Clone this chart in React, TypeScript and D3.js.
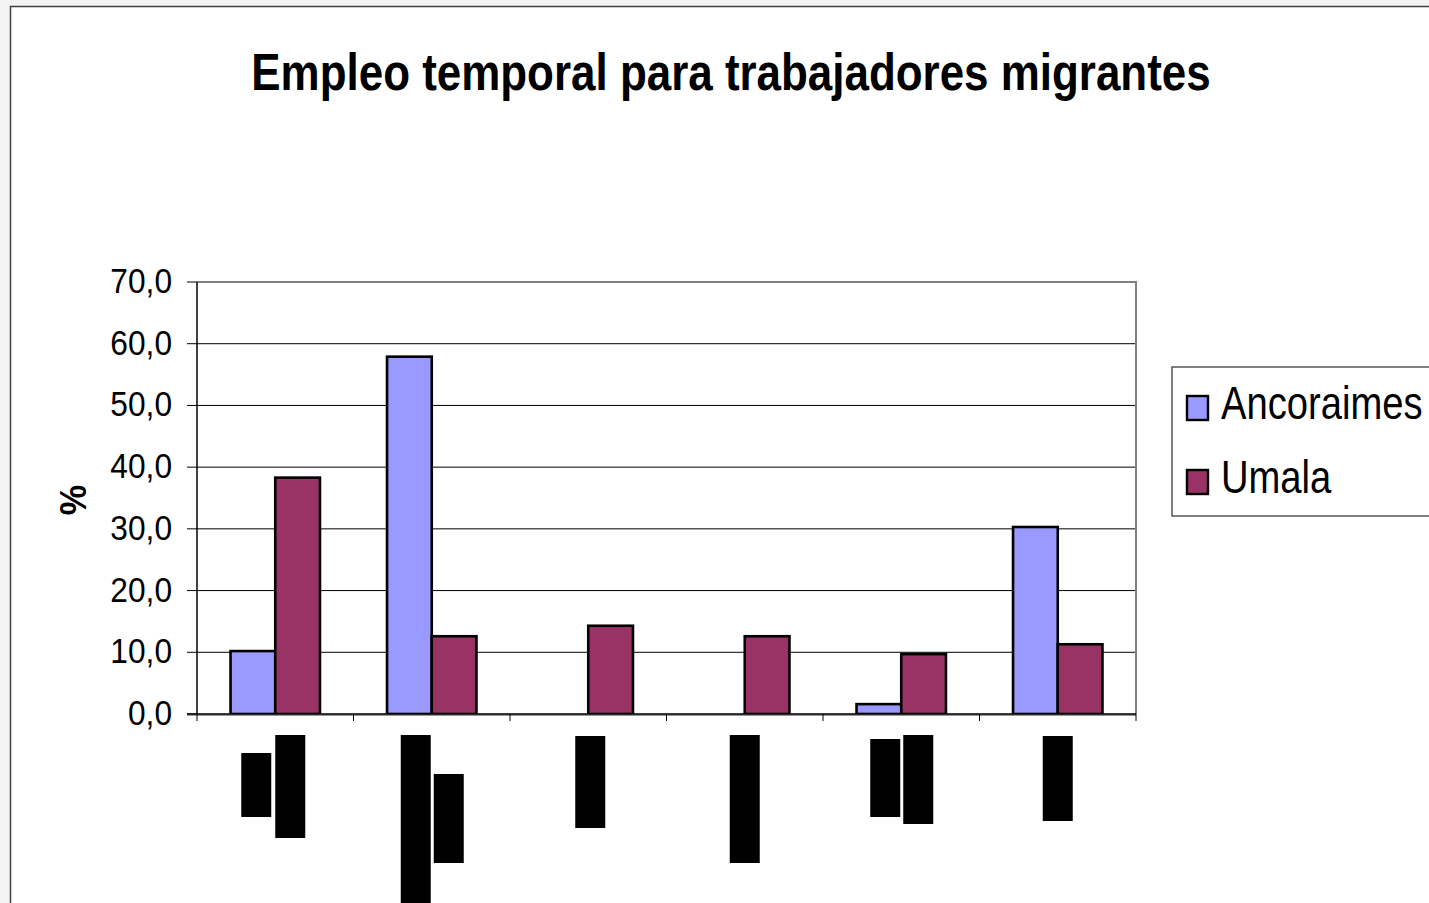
import React from "react";
import * as d3 from "d3";

// values
const categories = ["c1", "c2", "c3", "c4", "c5", "c6"];
const series = ["Ancoraimes", "Umala"];
const ancoraimes = [10.2, 57.9, 0, 0, 1.6, 30.3];
const umala = [38.3, 12.6, 14.3, 12.6, 9.7, 11.3];
const yTicks = [0, 10, 20, 30, 40, 50, 60, 70];

const colors = { Ancoraimes: "#9999FF", Umala: "#993366" };

// the category labels are blacked out in the reference: one box per label line
// [x offset from band centre, top, bottom]
const redactions = [
  [[-34, 753, 817], [0, 735, 838]],
  [[-31, 735, 910], [2, 774, 863]],
  [[-13, 736, 828]],
  [[-15, 735, 863]],
  [[-31, 739, 817], [2, 735, 824]],
  [[-15, 736, 821]],
];

const FONT = "'Liberation Sans', Arial, sans-serif";
const SX = 0.85; // the source is squashed horizontally

const Label = ({ x, y, size, anchor = "start", bold = false, rotate = 0, sx = SX, children }) => (
  <text
    transform={`translate(${x},${y}) rotate(${rotate}) scale(${sx},1)`}
    fontFamily={FONT}
    fontSize={size}
    fontWeight={bold ? "bold" : "normal"}
    textAnchor={anchor}
    fill="#000"
  >
    {children}
  </text>
);

const App = () => {
  const width = 1429;
  const height = 903;
  const plot = { left: 197, right: 1136, top: 282, bottom: 714 };

  const x0 = d3
    .scaleBand()
    .domain(categories)
    .range([plot.left, plot.right])
    .paddingInner(0.4286)
    .paddingOuter(0.2143);
  const x1 = d3.scaleBand().domain(series).range([0, x0.bandwidth()]);
  const y = d3.scaleLinear().domain([0, 70]).range([plot.bottom, plot.top]);
  const fmt = (v) => d3.format(".1f")(v).replace(".", ",");
  const step = x0.step();

  const rows = categories.map((c, i) => ({ c, Ancoraimes: ancoraimes[i], Umala: umala[i] }));

  return (
    <svg
      width={width}
      height={height}
      style={{ position: "fixed", left: 0, top: 0, display: "block" }}
    >
      <rect x={0} y={0} width={width} height={height} fill="#f3f3f3" />
      <rect x={10.5} y={6.5} width={width + 20} height={height + 20} fill="#fff" stroke="#404040" strokeWidth={1.5} />

      <Label x={731} y={90} size={52} anchor="middle" bold sx={0.845}>
        Empleo temporal para trabajadores migrantes
      </Label>

      {/* gridlines */}
      {yTicks.slice(1, -1).map((t) => (
        <line key={t} x1={plot.left} x2={plot.right} y1={y(t)} y2={y(t)} stroke="#000" strokeWidth={1} />
      ))}
      {/* top / right border of plot area */}
      <path
        d={`M${plot.left},${y(70)}H${plot.right}V${plot.bottom}`}
        fill="none"
        stroke="#808080"
        strokeWidth={2}
      />

      {/* bars */}
      {rows.map((r) => (
        <g key={r.c} transform={`translate(${x0(r.c)},0)`}>
          {series.map((s) =>
            r[s] > 0 ? (
              <rect
                key={s}
                x={x1(s)}
                y={y(r[s])}
                width={x1.bandwidth()}
                height={y(0) - y(r[s])}
                fill={colors[s]}
                stroke="#000"
                strokeWidth={2.6}
              />
            ) : null
          )}
        </g>
      ))}

      {/* y axis */}
      <line x1={plot.left} x2={plot.left} y1={plot.top} y2={plot.bottom} stroke="#000" strokeWidth={1.5} />
      {yTicks.map((t) => (
        <g key={t}>
          <line x1={plot.left - 10} x2={plot.left} y1={y(t)} y2={y(t)} stroke="#000" strokeWidth={1} />
          <Label x={172} y={y(t) + 11} size={36} anchor="end" sx={0.88}>
            {fmt(t)}
          </Label>
        </g>
      ))}
      <Label x={86} y={500} size={36} anchor="middle" bold rotate={-90} sx={0.95}>
        %
      </Label>

      {/* x axis */}
      <line x1={plot.left - 10} x2={plot.right} y1={plot.bottom + 1} y2={plot.bottom + 1} stroke="#999" strokeWidth={2} />
      <line x1={plot.left - 10} x2={plot.right} y1={plot.bottom} y2={plot.bottom} stroke="#000" strokeWidth={1.5} />
      {d3.range(categories.length + 1).map((i) => (
        <line
          key={i}
          x1={plot.left + i * step}
          x2={plot.left + i * step}
          y1={plot.bottom}
          y2={plot.bottom + 7}
          stroke="#000"
          strokeWidth={1}
        />
      ))}

      {/* blacked-out category labels */}
      {categories.map((c, i) =>
        redactions[i].map(([dx, top, bottom], j) => (
          <rect
            key={`${c}-${j}`}
            x={x0(c) + x0.bandwidth() / 2 + dx}
            y={top}
            width={30}
            height={bottom - top}
            fill="#000"
          />
        ))
      )}

      {/* legend */}
      <rect x={1172} y={367} width={300} height={149} fill="#fff" stroke="#555" strokeWidth={1.5} />
      {series.map((s, i) => (
        <g key={s} transform={`translate(0,${i * 74})`}>
          <rect x={1187} y={396} width={21} height={24} fill={colors[s]} stroke="#000" strokeWidth={2.4} />
          <Label x={1221} y={419} size={46} sx={0.83}>
            {s}
          </Label>
        </g>
      ))}
    </svg>
  );
};

export default App;
